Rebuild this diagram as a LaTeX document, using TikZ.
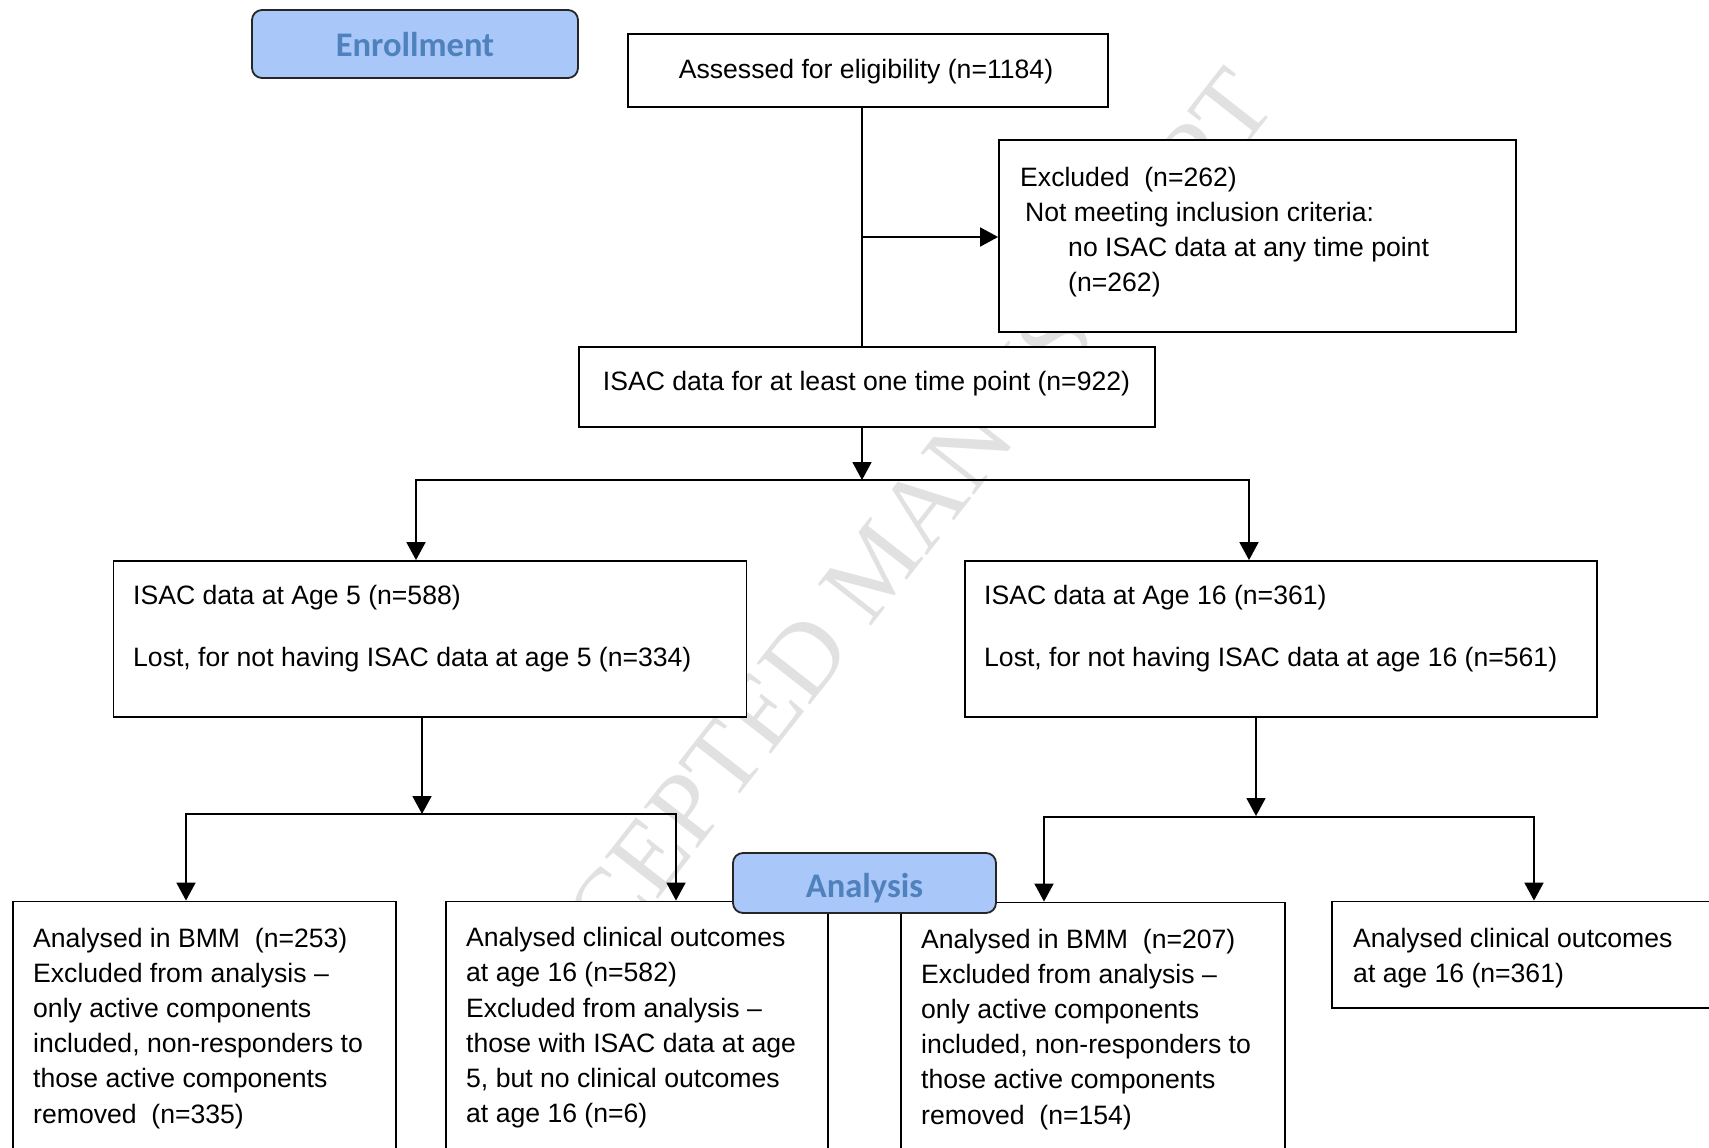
\documentclass[tikz,border=0pt]{standalone}
\usepackage{fontspec}
\setmainfont{Liberation Sans}
\newfontfamily\calfont{Carlito}
\newfontfamily\wmfont{Liberation Serif}
\usetikzlibrary{arrows.meta}
\definecolor{hdrfill}{RGB}{169,199,248}
\definecolor{hdrtext}{RGB}{79,129,189}
\definecolor{wmgray}{RGB}{225,225,225}
\begin{document}
\begin{tikzpicture}[x=1pt,y=-1pt,
  box/.style={draw, line width=1.8pt, fill=white, inner sep=0pt},
  hdr/.style={draw=black!85, line width=1.8pt, fill=hdrfill, rounded corners=10pt, inner sep=0pt},
  txt/.style={inner sep=0pt, font=\fontsize{26.6}{35}\selectfont, anchor=base west},
  hdrtxt/.style={inner sep=0pt, font=\calfont\bfseries\fontsize{34.5}{40}\selectfont, text=hdrtext, anchor=base},
  conn/.style={line width=1.8pt},
  arr/.style={line width=1.8pt, -{Triangle[length=18pt,width=19pt]}},
  arr2/.style={line width=1.8pt, {Triangle[length=18pt,width=19pt]}-{Triangle[length=18pt,width=19pt]}},
]
\useasboundingbox (0,0) rectangle (1709,1148);
\clip (0,0) rectangle (1709,1148);

% watermark (behind the boxes)
\node[font=\wmfont\fontsize{103}{110}\selectfont, text=wmgray, rotate=52, inner sep=0pt] (wm) at (876,566) {ACCEPTED MANUSCRIPT};

% boxes
\node[hdr, minimum width=326pt, minimum height=68pt] (enroll) at (415,44) {};
\node[hdrtxt] (enrollt) at (415,57) {Enrollment};

\node[box, minimum width=480pt, minimum height=73pt] (assess) at (868,70.5) {};
\node[box, minimum width=517pt, minimum height=192pt] (excl) at (1257.5,236) {};
\node[box, minimum width=576pt, minimum height=80pt] (isac) at (867,387) {};
\node[box, minimum width=633pt, minimum height=156pt] (age5) at (430,639) {};
\node[box, minimum width=632pt, minimum height=156pt] (age16) at (1280.6,639) {};
\node[box, minimum width=382.6pt, minimum height=258.5pt] (b1) at (204.3,1030.75) {};
\node[box, minimum width=382pt, minimum height=258.5pt] (b2) at (637,1030.75) {};
\node[box, minimum width=384pt, minimum height=257.5pt] (b3) at (1093,1031.25) {};
\node[box, minimum width=398pt, minimum height=106.5pt] (b4) at (1531,954.75) {};

% texts
\node[txt, anchor=base] (assesst) at (866,78.5) {Assessed for eligibility (n=1184)};
\node[txt] (exclt1) at (1020,186.5) {Excluded\ \ (n=262)};
\node[txt] (exclt2) at (1025,221.5) {Not meeting inclusion criteria:};
\node[txt] (exclt3) at (1068,256.5) {no ISAC data at any time point};
\node[txt] (exclt4) at (1068,291.5) {(n=262)};
\node[txt, anchor=base] (isact) at (866.5,390) {ISAC data for at least one time point (n=922)};
\node[txt] (age5t1) at (133,604.5) {ISAC data at Age 5 (n=588)};
\node[txt] (age5t2) at (133,666.5) {Lost, for not having ISAC data at age 5 (n=334)};
\node[txt] (age16t1) at (984,604.5) {ISAC data at Age 16 (n=361)};
\node[txt] (age16t2) at (984,666.5) {Lost, for not having ISAC data at age 16 (n=561)};

\foreach \t [count=\i from 0] in {{Analysed in BMM\ \ (n=253)},{Excluded from analysis –},{only active components},{included, non-responders to},{those active components},{removed\ \ (n=335)}}
  \node[txt] (bat\i) at (33,{947+35.2*\i}) {\t};
\foreach \t [count=\i from 0] in {{Analysed clinical outcomes},{at age 16 (n=582)},{Excluded from analysis –},{those with ISAC data at age},{5, but no clinical outcomes},{at age 16 (n=6)}}
  \node[txt] (bbt\i) at (466,{946.7+35.2*\i}) {\t};
\foreach \t [count=\i from 0] in {{Analysed in BMM\ \ (n=207)},{Excluded from analysis –},{only active components},{included, non-responders to},{those active components},{removed\ \ (n=154)}}
  \node[txt] (bct\i) at (921,{948+35.2*\i}) {\t};
\foreach \t [count=\i from 0] in {{Analysed clinical outcomes},{at age 16 (n=361)}}
  \node[txt] (bdt\i) at (1353,{947+35.2*\i}) {\t};

% connectors
\coordinate (j0) at (862,237);
\draw[conn] (assess.south -| j0) -- (isac.north -| j0);
\draw[arr] (j0) -- (j0 -| excl.west);

\coordinate (j1) at (862,480);
\coordinate (jl) at (416,480);
\coordinate (jr) at (1249,480);
\draw[arr] (isac.south -| j1) -- (j1);
\draw[arr2] (age5.north -| jl) -- (jl) -- (jr) -- (age16.north -| jr);

\coordinate (j2) at (422,814);
\coordinate (jl2) at (186,814);
\coordinate (jr2) at (676,814);
\draw[arr] (age5.south -| j2) -- (j2);
\draw[arr2] (b1.north -| jl2) -- (jl2) -- (jr2) -- (b2.north -| jr2);

\coordinate (j3) at (1256,816);
\coordinate (jl3) at (1044,817);
\coordinate (jr3) at (1534,817);
\draw[arr] (age16.south -| j3) -- (j3);
\draw[arr2] (b3.north -| jl3) -- (jl3) -- (jr3) -- (b4.north -| jr3);

% analysis header over the boxes
\node[hdr, minimum width=263pt, minimum height=60pt] (analysis) at (864.5,883) {};
\node[hdrtxt] (analysist) at (864.5,897) {Analysis};
\end{tikzpicture}
\end{document}
